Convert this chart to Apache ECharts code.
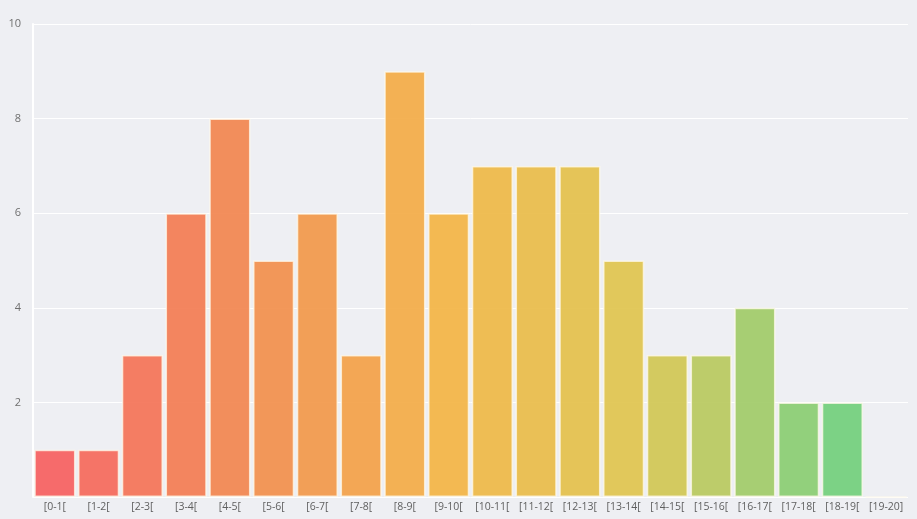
<!DOCTYPE html>
<html>
<head>
<meta charset="utf-8">
<script src="https://cdn.jsdelivr.net/npm/echarts@6/dist/echarts.min.js"></script>
<style>
  html, body { margin: 0; padding: 0; background: #eeeff3; }
  #main { width: 917px; height: 519px; }
</style>
</head>
<body>
<div id="main"></div>
<script>
// bins
var categories = ['[0-1[', '[1-2[', '[2-3[', '[3-4[', '[4-5[', '[5-6[', '[6-7[', '[7-8[', '[8-9[', '[9-10[',
  '[10-11[', '[11-12[', '[12-13[', '[13-14[', '[14-15[', '[15-16[', '[16-17[', '[17-18[', '[18-19[', '[19-20]'];
// counts
var counts = [1, 1, 3, 6, 8, 5, 6, 3, 9, 6, 7, 7, 7, 5, 3, 3, 4, 2, 2, 0];
var yTicks = [0, 2, 4, 6, 8, 10];

var chart = echarts.init(document.getElementById('main'));

var option = {
  backgroundColor: '#eeeff3',
  textStyle: { fontFamily: 'Open Sans' },
  grid: { left: 33, right: 9, top: 24, bottom: 22 },
  visualMap: {
    show: false,
    type: 'continuous',
    dimension: 0,
    min: 0,
    max: 18,
    inRange: {
      color: ['#f6605f', '#f28a4d', '#f3b444', '#dcc64f', '#72cf7c']
    }
  },
  xAxis: {
    type: 'category',
    data: categories,
    axisLine: { show: false },
    axisTick: { show: false },
    axisLabel: { color: '#5f5f5f', fontSize: 10.5, margin: 5, interval: 0 }
  },
  yAxis: {
    type: 'value',
    min: yTicks[0],
    max: yTicks[yTicks.length - 1],
    interval: 2,
    axisLine: { show: true, lineStyle: { color: '#ffffff', width: 2 } },
    axisTick: { show: false },
    splitLine: { lineStyle: { color: '#ffffff', width: 1 } },
    axisLabel: {
      color: '#6f6f6f',
      fontSize: 11,
      margin: 12,
      formatter: function (v) { return v === 0 ? '' : v; }
    }
  },
  series: [{
    type: 'bar',
    data: counts.map(function (c, i) { return [i, c]; }),
    barCategoryGap: '6%',
    itemStyle: {
      opacity: 0.92,
      borderColor: 'rgba(255,250,235,0.8)',
      borderWidth: 1.5
    }
  }]
};

chart.setOption(option);
</script>
</body>
</html>
